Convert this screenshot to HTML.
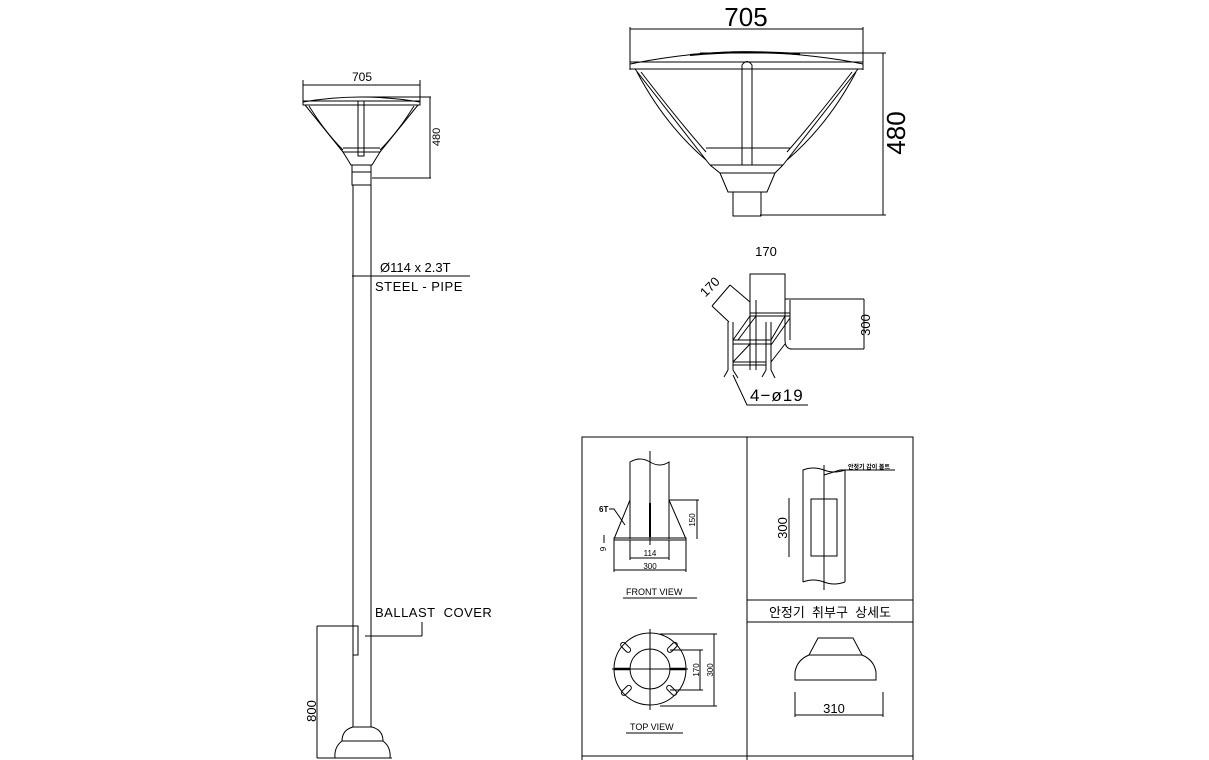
<!DOCTYPE html>
<html><head><meta charset="utf-8"><style>
html,body{margin:0;padding:0;background:#fff;width:1209px;height:760px;overflow:hidden}
svg{display:block}
text{font-family:"Liberation Sans","Noto Sans CJK KR",sans-serif;fill:#000}
</style></head><body>
<svg width="1209" height="760" viewBox="0 0 1209 760" xmlns="http://www.w3.org/2000/svg">
<g fill="none" stroke="#000" stroke-width="1">
<!-- SMALL LAMP + POLE -->
<line x1="303" y1="85" x2="420" y2="85"/>
<line x1="303" y1="80" x2="303" y2="104"/><line x1="420" y1="80" x2="420" y2="104"/>
<path d="M303 102 Q361 92 420 102"/>
<rect x="303" y="101" width="117" height="4"/>
<line x1="360" y1="97" x2="431" y2="97"/>
<line x1="430" y1="97" x2="430" y2="178"/>
<line x1="372" y1="178" x2="431" y2="178"/>
<path d="M305 105 L343 152 M418 105 L380 152"/>
<path d="M309 106 Q325 132 343 150 M414 106 Q398 132 380 150"/>
<line x1="343" y1="148" x2="380" y2="148"/>
<rect x="358" y="101" width="6" height="55"/>
<path d="M343 152 L380 152 L372 165 L351 165 Z"/>
<rect x="352" y="165" width="19" height="20"/>
<line x1="352" y1="172" x2="371" y2="172"/>
<line x1="353" y1="185" x2="353" y2="727"/>
<line x1="371" y1="185" x2="371" y2="727"/>
<line x1="352" y1="276" x2="470" y2="276"/>
<path d="M353 626 L358 626 L358 655 L353 655"/>
<line x1="365" y1="636" x2="422" y2="636"/><line x1="422" y1="636" x2="422" y2="622"/>
<line x1="317" y1="626" x2="358" y2="626"/>
<line x1="317" y1="626" x2="317" y2="758"/>
<path d="M342 741 Q342 730 353 727 L372 727 Q383 730 383 741 Z"/>
<path d="M342 741 Q334 747 335 758 M383 741 Q391 747 390 758"/>
<line x1="317" y1="758" x2="392" y2="758"/>

<!-- BIG LAMP -->
<line x1="630" y1="29" x2="863" y2="29"/>
<line x1="630" y1="27" x2="630" y2="70"/><line x1="863" y1="27" x2="863" y2="70"/>
<path d="M630 64 Q700 50 760 52 Q820 55 863 64"/>
<path d="M690 55 Q740 50 800 54" stroke-width="2"/>
<rect x="630" y="62" width="233" height="7"/>
<line x1="700" y1="53" x2="886" y2="53"/>
<line x1="883" y1="53" x2="883" y2="215"/>
<line x1="760" y1="215" x2="886" y2="215"/>
<path d="M635 69 L710 165 M858 69 L783 165"/>
<path d="M637 72 Q665 125 706 160 M641 72 Q678 120 706 152 M856 72 Q828 125 787 160 M852 72 Q815 120 787 152"/>
<line x1="706" y1="148" x2="790" y2="148"/>
<path d="M742 165 L742 65 Q747 58 752 65 L752 165"/>
<line x1="710" y1="165" x2="783" y2="165"/>
<path d="M710 165 L720 173 L775 173 L783 165"/>
<path d="M720 173 L728 192 L767 192 L775 173"/>
<rect x="733" y="192" width="28" height="24"/>

<!-- BRACKET -->
<path d="M750 302 L750 274 L785 274 L785 302"/>
<line x1="785" y1="299" x2="864" y2="299"/>
<line x1="864" y1="299" x2="864" y2="349"/>
<line x1="790" y1="349" x2="864" y2="349"/>
<path d="M750 300 L750 370 M756 300 L756 370 M785 300 L785 340 Q785 349 792 349 M790 300 L790 340"/>
<path d="M728 322 L728 370 M733 322 L733 370 M766 322 L766 370 M771 322 L771 370"/>
<line x1="733" y1="340" x2="771" y2="340"/><line x1="733" y1="344" x2="771" y2="344"/>
<line x1="733" y1="362" x2="766" y2="362"/><line x1="733" y1="365" x2="766" y2="365"/>
<line x1="750" y1="313" x2="790" y2="313"/><line x1="750" y1="316" x2="790" y2="316"/>
<path d="M733 340 L750 316 M738 340 L756 316 M771 340 L785 316 M771 345 L790 318 M733 362 L750 344 M771 362 L785 344"/>
<path d="M728 370 L724 377 M733 370 L738 378 M766 370 L762 377 M771 370 L775 378"/>
<path d="M712 306 L729 322 M712 306 L730 285 M730 285 L750 302"/>
<path d="M733 375 L747 405 L808 405"/>

<!-- TABLE -->
<rect x="582" y="437" width="331" height="330"/>
<line x1="747" y1="437" x2="747" y2="760"/>
<line x1="747" y1="600" x2="913" y2="600"/>
<line x1="747" y1="622" x2="913" y2="622"/>
<line x1="582" y1="756" x2="913" y2="756"/>
<path d="M630 539 L630 462 Q640 456 650 462 Q660 468 669 462 L669 539"/>
<line x1="650" y1="451" x2="650" y2="545"/>
<line x1="650" y1="503" x2="650" y2="537" stroke-width="2"/>
<path d="M614 539 L630 500 M669 500 L686 539"/>
<rect x="614" y="538" width="72" height="2"/>
<line x1="669" y1="500" x2="699" y2="500"/><line x1="697" y1="500" x2="697" y2="539"/>
<path d="M609 509 L614 509 L625 525"/>
<line x1="604" y1="535" x2="604" y2="543"/>
<line x1="630" y1="540" x2="630" y2="560"/><line x1="669" y1="540" x2="669" y2="560"/>
<line x1="630" y1="558" x2="669" y2="558"/>
<line x1="614" y1="540" x2="614" y2="572"/><line x1="686" y1="540" x2="686" y2="572"/>
<line x1="614" y1="570" x2="686" y2="570"/>
<line x1="623" y1="598" x2="697" y2="598"/>
<!-- top view -->
<circle cx="650" cy="669" r="36"/>
<circle cx="650" cy="669" r="20"/>
<line x1="612" y1="669" x2="688" y2="669"/>
<line x1="614" y1="669" x2="630" y2="669" stroke-width="2.5"/>
<line x1="670" y1="669" x2="686" y2="669" stroke-width="2.5"/>
<line x1="650" y1="629" x2="650" y2="710"/>
<rect x="620" y="645" width="12" height="5" rx="2.5" transform="rotate(45 626 647)"/>
<rect x="666" y="645" width="12" height="5" rx="2.5" transform="rotate(-45 672 647)"/>
<rect x="620" y="688" width="12" height="5" rx="2.5" transform="rotate(-45 626 690)"/>
<rect x="666" y="688" width="12" height="5" rx="2.5" transform="rotate(45 672 690)"/>
<line x1="670" y1="650" x2="703" y2="650"/><line x1="670" y1="690" x2="703" y2="690"/>
<line x1="700" y1="650" x2="700" y2="690"/>
<line x1="660" y1="634" x2="717" y2="634"/><line x1="660" y1="706" x2="717" y2="706"/>
<line x1="714" y1="634" x2="714" y2="706"/>
<line x1="626" y1="733" x2="683" y2="733"/>
<path d="M803 582 L803 470 Q813 466 824 470 Q834 474 845 470 L845 582"/>
<path d="M803 582 Q813 578 824 582 Q834 586 845 582"/>
<line x1="824" y1="465" x2="824" y2="590"/>
<rect x="811" y="499" width="26" height="57"/>
<line x1="789" y1="498" x2="789" y2="557"/>
<path d="M824 475 L840 470 L895 470"/>
<path d="M795 680 L795 672 Q797 660 809 655 L818 638 L853 638 L862 655 Q874 660 876 672 L876 680 Z"/>
<line x1="809" y1="655" x2="862" y2="655"/>
<line x1="795" y1="692" x2="795" y2="717"/><line x1="883" y1="692" x2="883" y2="717"/>
<line x1="795" y1="715" x2="883" y2="715"/>
</g>

<text x="362" y="81" font-size="12" text-anchor="middle">705</text>
<text transform="translate(440,137) rotate(-90)" font-size="11" text-anchor="middle">480</text>
<text x="380" y="272" font-size="13">Ø114 x 2.3T</text>
<text x="375" y="291" font-size="13" letter-spacing="0.5">STEEL - PIPE</text>
<text x="375" y="617" font-size="13" letter-spacing="0.5" xml:space="preserve">BALLAST  COVER</text>
<text transform="translate(316,711) rotate(-90)" font-size="13" text-anchor="middle">800</text>

<text x="746" y="26" font-size="26" text-anchor="middle">705</text>
<text transform="translate(905,133) rotate(-90)" font-size="26" text-anchor="middle">480</text>

<text x="766" y="256" font-size="13" text-anchor="middle">170</text>
<text transform="translate(713,290) rotate(-45)" font-size="13" text-anchor="middle">170</text>
<text transform="translate(870,325) rotate(-90)" font-size="13" text-anchor="middle">300</text>
<text x="750" y="401" font-size="17" letter-spacing="1">4−ø19</text>

<text x="599" y="512" font-size="8" font-weight="bold">6T</text>
<text transform="translate(606,549) rotate(-90)" font-size="8" text-anchor="middle">9</text>
<text transform="translate(695,520) rotate(-90)" font-size="8" text-anchor="middle">150</text>
<text x="650" y="556" font-size="8" text-anchor="middle">114</text>
<text x="650" y="569" font-size="8" text-anchor="middle">300</text>
<text x="626" y="595" font-size="9">FRONT VIEW</text>
<text transform="translate(699,670) rotate(-90)" font-size="8" text-anchor="middle">170</text>
<text transform="translate(713,670) rotate(-90)" font-size="8" text-anchor="middle">300</text>
<text x="630" y="730" font-size="9">TOP VIEW</text>
<text x="848" y="469" font-size="6" font-weight="bold">안정기 감이 볼트</text>
<text transform="translate(787,528) rotate(-90)" font-size="13" text-anchor="middle">300</text>
<text x="830" y="617" font-size="13" text-anchor="middle" xml:space="preserve">안정기  취부구  상세도</text>
<text x="834" y="713" font-size="13" text-anchor="middle">310</text>
</svg>
</body></html>
